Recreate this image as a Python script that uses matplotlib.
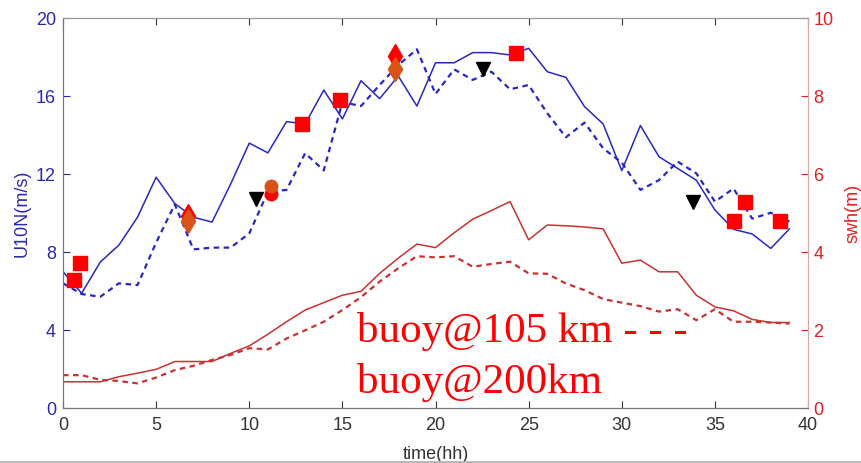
import numpy as np
import matplotlib
matplotlib.use('Agg')
import matplotlib.pyplot as plt
from matplotlib.lines import Line2D

plt.rcParams['font.family'] = ['Liberation Sans', 'DejaVu Sans']

# hourly series
hours = np.arange(40)

u10_105 = [7.0, 5.9, 7.5, 8.37, 9.8, 11.85, 10.5, 9.8, 9.55, 11.5,
           13.6, 13.1, 14.7, 14.58, 16.32, 14.84, 16.8, 15.88, 17.04, 15.5,
           17.72, 17.72, 18.24, 18.24, 18.12, 18.46, 17.26, 16.97, 15.47, 14.58,
           12.19, 14.5, 12.9, 12.3, 11.7, 10.17, 9.18, 8.94, 8.2, 9.2]
u10_200 = [6.41, 5.86, 5.72, 6.41, 6.32, 8.5, 10.46, 8.15, 8.24, 8.24,
           8.97, 11.1, 11.2, 13.08, 12.2, 15.7, 15.5, 16.58, 17.6, 18.41,
           16.12, 17.38, 16.84, 17.26, 16.36, 16.58, 15.13, 13.9, 14.65, 13.33,
           12.6, 11.2, 11.7, 12.65, 12.05, 10.6, 11.27, 9.73, 10.03, 9.57]
swh_105 = [0.68, 0.68, 0.68, 0.81, 0.9, 1.0, 1.2, 1.2, 1.2, 1.41,
           1.6, 1.9, 2.22, 2.52, 2.71, 2.9, 3.0, 3.46, 3.85, 4.21,
           4.12, 4.5, 4.85, 5.07, 5.3, 4.32, 4.7, 4.68, 4.65, 4.6,
           3.72, 3.8, 3.5, 3.5, 2.9, 2.6, 2.5, 2.28, 2.2, 2.2]
swh_200 = [0.85, 0.85, 0.73, 0.7, 0.64, 0.79, 0.98, 1.09, 1.24, 1.37,
           1.54, 1.51, 1.79, 2.0, 2.22, 2.52, 2.85, 3.25, 3.59, 3.9,
           3.87, 3.9, 3.63, 3.7, 3.76, 3.46, 3.45, 3.2, 3.03, 2.8,
           2.71, 2.62, 2.48, 2.54, 2.26, 2.54, 2.22, 2.22, 2.2, 2.17]

# observation markers (time, U10N)
sq_t = [0.59, 0.91, 12.84, 14.87, 24.33, 36.0, 36.6, 38.5]
sq_v = [6.6, 7.43, 14.6, 15.8, 18.2, 9.6, 10.6, 9.6]
circ_red_t, circ_red_v = [11.18], [10.99]
circ_org_t, circ_org_v = [11.18], [11.42]
dia_red_t, dia_red_v = [6.71, 17.84], [9.86, 18.07]
dia_org_t, dia_org_v = [6.71, 17.84], [9.6, 17.4]
tri_t = [10.37, 22.55, 33.8]
tri_v = [10.72, 17.38, 10.6]

blue = '#2828c0'
red = '#c83232'
orange = '#d95319'

fig = plt.figure(figsize=(8.62, 4.63), dpi=100)
ax = fig.add_axes([0.0731, 0.1181, 0.8643, 0.8424])
ax2 = ax.twinx()

ax.plot(hours, u10_105, color=blue, lw=1.1)
ax.plot(hours, u10_200, color=blue, lw=1.6, ls=(0, (2.5, 2.0)))
ax2.plot(hours, swh_105, color=red, lw=1.1)
ax2.plot(hours, swh_200, color=red, lw=1.6, ls=(0, (2.5, 2.0)))

ax.set_zorder(ax2.get_zorder() + 1)
ax.patch.set_visible(False)

ax.plot(sq_t, sq_v, 's', color='#ff0000', ms=9.5, ls='none')
ax.plot(circ_red_t, circ_red_v, 'o', color='#ff0000', ms=9, ls='none')
ax.plot(circ_org_t, circ_org_v, 'o', color=orange, ms=9, ls='none')
ax.plot(dia_red_t, dia_red_v, 'd', color='#ff0000', ms=12, ls='none')
ax.plot(dia_org_t, dia_org_v, 'd', color=orange, ms=12, ls='none')
ax.plot(tri_t, tri_v, 'v', color='black', ms=9.5, ls='none')

ax.set_xlim(0, 40)
ax.set_ylim(0, 20)
ax2.set_ylim(0, 10)
ax.set_xticks(range(0, 41, 5))
ax.set_yticks(range(0, 21, 4))
ax2.set_yticks(range(0, 11, 2))

ax.tick_params(axis='x', direction='in', top=True, length=5, colors='#333333',
               labelsize=13, pad=6)
ax.tick_params(axis='y', direction='in', length=5, colors='#2a2ab0',
               labelsize=13, pad=5)
ax2.tick_params(axis='y', direction='in', length=5, colors='#e02020',
                labelsize=13, pad=4)

for a in (ax, ax2):
    a.spines['top'].set_color('#999999')
    a.spines['bottom'].set_color('#777777')
    a.spines['left'].set_color('#7070a8')
    a.spines['right'].set_color('#d8a8a8')

ax.set_xlabel('time(hh)', fontsize=13, color='#333333', labelpad=9)
ax.set_ylabel('U10N(m/s)', fontsize=13, color='#2a2ab0', labelpad=4)
ax2.set_ylabel('swh(m)', fontsize=13, color='#e02020', labelpad=8)

ax.text(15.8, 3.42, 'buoy@105 km - - -', family='Liberation Serif',
        fontsize=31, color='#ff0000', va='baseline')
ax.text(15.8, 0.77, 'buoy@200km', family='Liberation Serif',
        fontsize=31, color='#ff0000', va='baseline')

fig.add_artist(Line2D([0, 1], [0.003, 0.003], color='#b5b5b5', lw=2))

fig.savefig('out.png', dpi=100)
